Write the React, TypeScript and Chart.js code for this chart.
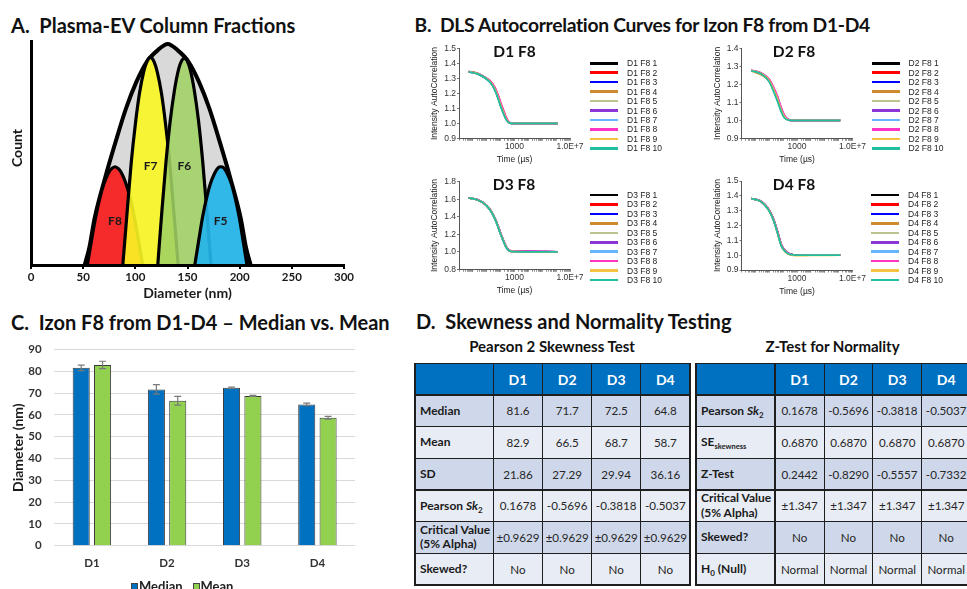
import React, { useEffect, useRef } from "react";
import { Chart, registerables } from "chart.js";

Chart.register(...registerables);

const CAL = "Lato, 'Open Sans', sans-serif";
const ARIAL = "'Liberation Sans', Arial, sans-serif";

// ---------------- Panel A data ----------------
const A_X_TICKS = [0, 50, 100, 150, 200, 250, 300];
const ALL_X = [51.5, 56, 61, 71, 81, 91, 101, 111, 121, 131, 141, 151, 161, 171, 181, 191, 201, 206, 210.5];
const ALL_Y = [0, 8, 21, 39, 55, 70, 82, 91, 96, 99, 96, 91, 82, 70, 55, 39, 21, 8, 0];
const F8_X = [54, 58, 62, 66, 70, 74, 77, 80.5, 84, 87, 91, 95, 99, 103, 107];
const F8_Y = [0, 11, 21.5, 30, 36.5, 41, 43, 44, 43, 41, 36.5, 30, 21.5, 11, 0];
const F7_X = [88, 92, 96, 100, 104, 108, 111, 114.5, 118, 121, 125, 129, 133, 137, 141];
const F7_Y = [0, 23, 45.5, 63, 77, 86.5, 91, 93, 91, 86.5, 77, 63, 45.5, 23, 0];
const F6_X = [121.5, 125.5, 129.5, 133.5, 137.5, 141.5, 144.5, 147, 149.5, 152.5, 156.5, 160.5, 164.5, 168.5, 172.5];
const F6_Y = [0, 24.5, 46.7, 64.8, 78.3, 87.7, 91.6, 92.5, 91.6, 87.7, 78.3, 64.8, 46.7, 24.5, 0];
const F5_X = [157, 161, 164.5, 168.5, 172, 176, 179.5, 182, 184.5, 188, 192, 195.5, 199.5, 203, 207];
const F5_Y = [0, 11.7, 21.6, 30.4, 36.5, 41.1, 43.6, 44, 43.6, 41.1, 36.5, 30.4, 21.6, 11.7, 0];
const FRACTION_NAMES = ["F8", "F7", "F6", "F5"];
const FRACTION_LABEL_X = [80.5, 114.7, 146.9, 181.8];
const FRACTION_LABEL_Y = [19.5, 44.5, 44.5, 19.5];

// ---------------- Panel B data ----------------
const TIME_US = [0.5, 2, 5, 10, 20, 40, 70, 100, 150, 250, 400, 700, 10000, 1300000];
const TIME_LABEL_VALUES = [1000, 10000000];
const TIME_LABEL_TEXT = ["1000", "1.0E+7"];
const RUN_COLORS = ["#000000", "#ff0000", "#0000ff", "#d08a2e", "#b9c48e", "#8b35d6", "#66b5ff", "#ff33c4", "#f5c242", "#1fbf9f"];

const D1_RUNS = [
  [1.347, 1.335, 1.316, 1.298, 1.272, 1.225, 1.165, 1.122, 1.080, 1.030, 1.006, 1.000, 1.000, 1.000],
  [1.347, 1.336, 1.318, 1.301, 1.278, 1.236, 1.180, 1.137, 1.093, 1.038, 1.009, 1.001, 1.000, 1.000],
  [1.346, 1.334, 1.315, 1.297, 1.271, 1.224, 1.164, 1.121, 1.079, 1.029, 1.006, 1.000, 1.000, 1.000],
  [1.347, 1.335, 1.317, 1.299, 1.274, 1.228, 1.168, 1.125, 1.082, 1.031, 1.007, 1.000, 1.000, 1.000],
  [1.346, 1.334, 1.316, 1.297, 1.271, 1.223, 1.163, 1.120, 1.078, 1.029, 1.005, 1.000, 1.000, 1.000],
  [1.347, 1.336, 1.317, 1.299, 1.273, 1.227, 1.167, 1.124, 1.081, 1.031, 1.006, 1.000, 1.000, 1.000],
  [1.346, 1.334, 1.315, 1.296, 1.270, 1.222, 1.162, 1.119, 1.077, 1.028, 1.005, 1.000, 1.000, 1.000],
  [1.347, 1.337, 1.319, 1.302, 1.279, 1.238, 1.183, 1.140, 1.096, 1.040, 1.010, 1.001, 1.000, 1.000],
  [1.346, 1.335, 1.316, 1.298, 1.272, 1.226, 1.166, 1.123, 1.080, 1.030, 1.006, 1.000, 1.000, 1.000],
  [1.346, 1.334, 1.315, 1.296, 1.269, 1.220, 1.158, 1.114, 1.072, 1.025, 1.004, 1.000, 1.000, 1.000],
];
const D2_RUNS = [
  [1.277, 1.265, 1.245, 1.220, 1.172, 1.115, 1.060, 1.032, 1.012, 1.002, 1.000, 1.000, 1.000, 1.000],
  [1.277, 1.266, 1.247, 1.223, 1.176, 1.120, 1.064, 1.035, 1.014, 1.003, 1.000, 1.000, 1.000, 1.000],
  [1.277, 1.265, 1.246, 1.221, 1.174, 1.117, 1.061, 1.033, 1.013, 1.002, 1.000, 1.000, 1.000, 1.000],
  [1.276, 1.258, 1.240, 1.217, 1.169, 1.112, 1.058, 1.031, 1.011, 1.002, 1.001, 1.002, 1.000, 1.000],
  [1.277, 1.264, 1.244, 1.219, 1.171, 1.114, 1.059, 1.031, 1.012, 1.002, 1.000, 1.000, 1.000, 1.000],
  [1.278, 1.267, 1.249, 1.227, 1.183, 1.129, 1.073, 1.042, 1.018, 1.004, 1.000, 1.000, 1.000, 1.000],
  [1.277, 1.265, 1.245, 1.220, 1.173, 1.116, 1.061, 1.032, 1.012, 1.002, 1.000, 1.000, 1.000, 1.000],
  [1.278, 1.267, 1.250, 1.228, 1.185, 1.131, 1.075, 1.043, 1.019, 1.004, 1.000, 1.000, 1.000, 1.000],
  [1.277, 1.265, 1.246, 1.221, 1.174, 1.117, 1.062, 1.033, 1.013, 1.002, 1.000, 1.000, 1.000, 1.000],
  [1.276, 1.263, 1.242, 1.214, 1.163, 1.104, 1.051, 1.025, 1.008, 1.001, 1.000, 1.000, 1.000, 1.000],
];
const D3_RUNS = [
  [1.615, 1.595, 1.565, 1.525, 1.465, 1.375, 1.275, 1.205, 1.135, 1.055, 1.015, 1.003, 1.000, 1.000],
  [1.615, 1.595, 1.566, 1.527, 1.468, 1.379, 1.280, 1.210, 1.139, 1.058, 1.017, 1.004, 1.001, 1.000],
  [1.614, 1.594, 1.564, 1.524, 1.464, 1.374, 1.274, 1.204, 1.134, 1.055, 1.015, 1.003, 1.000, 1.000],
  [1.615, 1.595, 1.565, 1.526, 1.466, 1.376, 1.276, 1.206, 1.136, 1.056, 1.016, 1.003, 1.000, 1.000],
  [1.614, 1.594, 1.564, 1.524, 1.463, 1.373, 1.273, 1.203, 1.133, 1.054, 1.014, 1.003, 1.000, 1.000],
  [1.615, 1.596, 1.566, 1.527, 1.467, 1.378, 1.279, 1.209, 1.139, 1.060, 1.020, 1.010, 1.008, 1.000],
  [1.615, 1.595, 1.565, 1.525, 1.465, 1.375, 1.275, 1.205, 1.135, 1.055, 1.015, 1.003, 1.000, 1.000],
  [1.615, 1.595, 1.566, 1.526, 1.467, 1.377, 1.278, 1.208, 1.138, 1.058, 1.018, 1.006, 1.004, 1.000],
  [1.614, 1.594, 1.565, 1.525, 1.465, 1.374, 1.274, 1.204, 1.134, 1.055, 1.015, 1.003, 1.000, 1.000],
  [1.614, 1.594, 1.564, 1.523, 1.462, 1.371, 1.270, 1.200, 1.130, 1.051, 1.013, 1.002, 1.000, 1.000],
];
const D4_RUNS = [
  [1.382, 1.368, 1.338, 1.300, 1.240, 1.152, 1.073, 1.045, 1.025, 1.010, 1.004, 1.001, 1.000, 1.000],
  [1.382, 1.368, 1.339, 1.302, 1.243, 1.156, 1.077, 1.048, 1.027, 1.011, 1.004, 1.001, 1.000, 1.000],
  [1.381, 1.367, 1.338, 1.299, 1.239, 1.151, 1.072, 1.044, 1.024, 1.010, 1.004, 1.001, 1.000, 1.000],
  [1.382, 1.368, 1.339, 1.301, 1.241, 1.153, 1.074, 1.046, 1.025, 1.010, 1.004, 1.001, 1.000, 1.000],
  [1.381, 1.367, 1.337, 1.299, 1.238, 1.150, 1.071, 1.043, 1.023, 1.009, 1.003, 1.000, 1.000, 1.000],
  [1.382, 1.369, 1.340, 1.303, 1.245, 1.158, 1.079, 1.049, 1.028, 1.012, 1.005, 1.001, 1.000, 1.000],
  [1.382, 1.368, 1.338, 1.300, 1.240, 1.152, 1.073, 1.045, 1.025, 1.010, 1.004, 1.001, 1.000, 1.000],
  [1.382, 1.368, 1.339, 1.302, 1.243, 1.155, 1.076, 1.047, 1.026, 1.011, 1.004, 1.001, 1.000, 1.000],
  [1.381, 1.367, 1.337, 1.298, 1.237, 1.148, 1.069, 1.040, 1.019, 1.006, 1.000, 0.997, 0.998, 1.000],
  [1.381, 1.367, 1.336, 1.297, 1.236, 1.147, 1.068, 1.041, 1.022, 1.008, 1.003, 1.000, 1.000, 1.000],
];

// ---------------- Panel C data ----------------
const DONORS = ["D1", "D2", "D3", "D4"];
const MEDIAN = [81.6, 71.7, 72.5, 64.8];
const MEAN = [82.9, 66.5, 68.7, 58.7];
const MEDIAN_ERR = [1.25, 2.2, 0.3, 0.6];
const MEAN_ERR = [1.7, 2.0, 0.25, 0.6];

// ---------------- Panel D data ----------------
const SD = ["21.86", "27.29", "29.94", "36.16"];
const SK2 = ["0.1678", "-0.5696", "-0.3818", "-0.5037"];
const CRIT_PEARSON = ["±0.9629", "±0.9629", "±0.9629", "±0.9629"];
const SKEWED = ["No", "No", "No", "No"];
const SE_SKEW = ["0.6870", "0.6870", "0.6870", "0.6870"];
const Z_TEST = ["0.2442", "-0.8290", "-0.5557", "-0.7332"];
const CRIT_Z = ["±1.347", "±1.347", "±1.347", "±1.347"];
const H0 = ["Normal", "Normal", "Normal", "Normal"];

// ---------------- helpers ----------------
type Area = { l: number; t: number; r: number; b: number };
function frame(a: Area, lp: number, tp: number, rp: number, bp: number) {
  const cl = Math.floor(a.l - lp);
  const ct = Math.floor(a.t - tp);
  const cw = Math.ceil(a.r + rp) - cl;
  const ch = Math.ceil(a.b + bp) - ct;
  return { cl, ct, cw, ch, yWidth: a.l - cl, padTop: a.t - ct, padRight: cl + cw - a.r, xHeight: ct + ch - a.b };
}

function ChartBox({ f, build }: { f: any; build: () => any }) {
  const ref = useRef<HTMLCanvasElement>(null);
  useEffect(() => {
    const chart = new Chart(ref.current as HTMLCanvasElement, build());
    return () => chart.destroy();
  }, []);
  return (
    <canvas
      ref={ref}
      width={f.cw}
      height={f.ch}
      style={{ position: "absolute", left: f.cl, top: f.ct, width: f.cw, height: f.ch }}
    />
  );
}

function Txt({ x, y, size, bold = false, align = "left", color = "#111", family = CAL, spacing = 0, children }: any) {
  const asc = family === ARIAL ? 0.8465 : 0.887;
  return (
    <div
      style={{
        position: "absolute",
        left: x,
        top: y - asc * size,
        fontSize: size,
        lineHeight: `${size}px`,
        fontWeight: bold ? 700 : 400,
        fontFamily: family,
        color,
        letterSpacing: spacing,
        whiteSpace: "pre",
        transform: align === "center" ? "translateX(-50%)" : undefined,
      }}
    >
      {children}
    </div>
  );
}

// ---------------- Panel A ----------------
const fractionLabelPlugin = {
  id: "fractionLabels",
  afterDatasetsDraw(chart: any) {
    const { ctx } = chart;
    const xs = chart.scales.x;
    const ys = chart.scales.y;
    ctx.save();
    ctx.font = `bold 12px ${CAL}`;
    ctx.fillStyle = "#1a1a1a";
    ctx.textAlign = "center";
    ctx.textBaseline = "middle";
    FRACTION_NAMES.forEach((t, i) => {
      ctx.fillText(t, xs.getPixelForValue(FRACTION_LABEL_X[i]), ys.getPixelForValue(FRACTION_LABEL_Y[i]));
    });
    ctx.restore();
  },
};

const A_AREA: Area = { l: 31, t: 41.7, r: 344, b: 265 };
function PanelA() {
  const f = frame(A_AREA, 31, 12, 16, 45);
  const pts = (xs: number[], ys: number[]) => xs.map((x, i) => ({ x, y: ys[i] }));
  const common = {
    fill: "origin",
    borderColor: "#000",
    pointRadius: 0,
    cubicInterpolationMode: "monotone",
    borderJoinStyle: "round",
    borderCapStyle: "round",
  };
  const build = () => ({
    type: "line",
    data: {
      datasets: [
        { ...common, label: "All", data: pts(ALL_X, ALL_Y), backgroundColor: "#d9d9d9", borderWidth: 4, order: 4 },
        { ...common, label: "F8", data: pts(F8_X, F8_Y), backgroundColor: "#f52b2b", borderWidth: 3.2, order: 3 },
        { ...common, label: "F7", data: pts(F7_X, F7_Y), backgroundColor: "rgba(248,246,34,0.9)", borderWidth: 3.2, order: 2 },
        { ...common, label: "F6", data: pts(F6_X, F6_Y), backgroundColor: "rgba(160,210,100,0.88)", borderWidth: 3.2, order: 1 },
        { ...common, label: "F5", data: pts(F5_X, F5_Y), backgroundColor: "rgba(36,180,234,0.92)", borderWidth: 3.2, order: 0 },
      ],
    },
    options: {
      responsive: false,
      animation: false,
      layout: { padding: { left: 0, right: f.padRight, top: f.padTop, bottom: 0 } },
      plugins: { legend: { display: false }, tooltip: { enabled: false } },
      scales: {
        x: {
          type: "linear",
          min: 0,
          max: 300,
          afterBuildTicks: (s: any) => {
            s.ticks = A_X_TICKS.map((v) => ({ value: v }));
          },
          ticks: { font: { family: CAL, size: 11.5, weight: "bold" }, color: "#1a1a1a", padding: 1.1, maxRotation: 0, autoSkip: false },
          grid: { display: true, drawOnChartArea: false, drawTicks: true, tickLength: 4, color: "#000", lineWidth: 2 },
          border: { display: true, color: "#000", width: 3, z: 1 },
          title: {
            display: true,
            text: "Diameter (nm)",
            font: { family: CAL, size: 14, weight: "bold" },
            color: "#1a1a1a",
            padding: { top: 0, bottom: f.ct + f.ch - 8.4 - 293 },
          },
          afterFit: (s: any) => {
            s.height = f.xHeight;
          },
        },
        y: {
          min: 0,
          max: 100,
          ticks: { display: false },
          grid: { display: false, drawTicks: false },
          border: { display: true, color: "#000", width: 3, z: 1 },
          afterFit: (s: any) => {
            s.width = f.yWidth;
          },
        },
      },
    },
    plugins: [fractionLabelPlugin],
  });
  return (
    <>
      <ChartBox f={f} build={build} />
      <div
        style={{
          position: "absolute",
          left: 17,
          top: 147.5,
          transform: "translate(-50%,-50%) rotate(-90deg)",
          fontFamily: CAL,
          fontWeight: 700,
          fontSize: 14,
          lineHeight: "14px",
          color: "#111",
          whiteSpace: "nowrap",
        }}
      >
        Count
      </div>
    </>
  );
}

// ---------------- Panel B ----------------
const DLS_TICKS: number[] = (() => {
  const out: number[] = [];
  for (let e = -1; e < 7; e++) for (let m = 1; m < 10; m++) out.push(m * Math.pow(10, e));
  out.push(Math.pow(10, 7));
  return out;
})();

const DLS_PANELS = [
  { name: "D1 F8", runs: D1_RUNS, yMin: 0.9, yMax: 1.5, yStep: 0.1, area: { l: 459, t: 48.8, r: 570, b: 138.3 }, legend: [590, 63.3], title: [514.5, 57.3] },
  { name: "D2 F8", runs: D2_RUNS, yMin: 0.9, yMax: 1.4, yStep: 0.1, area: { l: 741.5, t: 48.5, r: 852.5, b: 138.3 }, legend: [871.5, 63.3], title: [794, 57.3] },
  { name: "D3 F8", runs: D3_RUNS, yMin: 0.8, yMax: 1.8, yStep: 0.2, area: { l: 459, t: 181.7, r: 570, b: 269.3 }, legend: [590, 195], title: [514, 190.7] },
  { name: "D4 F8", runs: D4_RUNS, yMin: 0.9, yMax: 1.5, yStep: 0.1, area: { l: 741.5, t: 181, r: 852.5, b: 270 }, legend: [871, 195], title: [794, 190.7] },
];

function DlsChart({ p }: { p: any }) {
  const f = frame(p.area, 36, 10, 22, 32);
  const fs = 8.5;
  const lh = fs * 1.2;
  const build = () => ({
    type: "line",
    data: {
      datasets: p.runs.map((vals: number[], i: number) => ({
        label: `${p.name} ${i + 1}`,
        data: TIME_US.map((t, j) => ({ x: t, y: vals[j] })),
        borderColor: RUN_COLORS[i],
        borderWidth: 1.8,
        pointRadius: 0,
        fill: false,
        cubicInterpolationMode: "monotone",
        order: p.runs.length - i,
      })),
    },
    options: {
      responsive: false,
      animation: false,
      layout: { padding: { left: 0, right: f.padRight, top: f.padTop, bottom: 0 } },
      plugins: { legend: { display: false }, tooltip: { enabled: false } },
      scales: {
        x: {
          type: "logarithmic",
          min: 0.1,
          max: 10000000,
          afterBuildTicks: (s: any) => {
            s.ticks = DLS_TICKS.map((v) => ({ value: v }));
          },
          ticks: {
            autoSkip: false,
            maxRotation: 0,
            padding: 0.6,
            font: { family: ARIAL, size: fs },
            color: "#333",
            callback: (v: any) => {
              const k = TIME_LABEL_VALUES.indexOf(Number(v));
              return k >= 0 ? TIME_LABEL_TEXT[k] : "";
            },
          },
          grid: { drawOnChartArea: false, drawTicks: true, tickLength: 2.5, color: "#777", lineWidth: 0.8 },
          border: { color: "#555", width: 1 },
          title: {
            display: true,
            text: "Time (µs)",
            font: { family: ARIAL, size: fs },
            color: "#222",
            padding: { top: 0, bottom: f.ct + f.ch - lh / 2 - (p.area.b + 21.8) },
          },
          afterFit: (s: any) => {
            s.height = f.xHeight;
          },
        },
        y: {
          min: p.yMin,
          max: p.yMax,
          ticks: {
            stepSize: p.yStep,
            padding: 1,
            font: { family: ARIAL, size: fs },
            color: "#333",
            callback: (v: any) => Number(v).toFixed(1),
          },
          grid: { drawOnChartArea: false, drawTicks: true, tickLength: 2, color: "#777" },
          border: { color: "#555", width: 1 },
          title: {
            display: true,
            text: "Intensity AutoCorrelation",
            font: { family: ARIAL, size: fs },
            color: "#222",
            padding: { top: p.area.l - 24.3 - f.cl - lh / 2, bottom: 0 },
          },
          afterFit: (s: any) => {
            s.width = f.yWidth;
          },
        },
      },
    },
  });
  const [lx, ly] = p.legend;
  return (
    <>
      <ChartBox f={f} build={build} />
      <Txt x={p.title[0]} y={p.title[1]} size={15.5} bold align="center">
        {p.name}
      </Txt>
      {p.runs.map((_: any, i: number) => {
        const cy = ly + i * 9.45;
        return (
          <React.Fragment key={i}>
            <div style={{ position: "absolute", left: lx, top: cy - 1.3, width: 28, height: 2.6, background: RUN_COLORS[i] }} />
            <div
              style={{
                position: "absolute",
                left: lx + 37,
                top: cy - 5,
                fontFamily: ARIAL,
                fontSize: 8.5,
                lineHeight: "10px",
                color: "#222",
                whiteSpace: "nowrap",
              }}
            >
              {`${p.name} ${i + 1}`}
            </div>
          </React.Fragment>
        );
      })}
    </>
  );
}

// ---------------- Panel C ----------------
const errorBarPlugin = {
  id: "errorBars",
  afterDatasetsDraw(chart: any) {
    const { ctx } = chart;
    const ys = chart.scales.y;
    const errs = [MEDIAN_ERR, MEAN_ERR];
    chart.data.datasets.forEach((ds: any, di: number) => {
      const meta = chart.getDatasetMeta(di);
      meta.data.forEach((el: any, i: number) => {
        const v = ds.data[i];
        const e = errs[di][i];
        const x = el.x;
        const y1 = ys.getPixelForValue(v + e);
        const y2 = ys.getPixelForValue(v - e);
        ctx.save();
        ctx.strokeStyle = "#7a7a7a";
        ctx.lineWidth = 1.2;
        ctx.beginPath();
        ctx.moveTo(x, y1);
        ctx.lineTo(x, y2);
        ctx.moveTo(x - 3.5, y1);
        ctx.lineTo(x + 3.5, y1);
        ctx.moveTo(x - 3.5, y2);
        ctx.lineTo(x + 3.5, y2);
        ctx.stroke();
        ctx.restore();
      });
    });
  },
};

const C_AREA: Area = { l: 54.3, t: 343.3, r: 355, b: 545.7 };
function PanelC() {
  const f = frame(C_AREA, 54.3, 13, 15, 34);
  const build = () => ({
    type: "bar",
    data: {
      labels: DONORS,
      datasets: [
        { label: "Median", data: MEDIAN, backgroundColor: "#0070c0", borderColor: "#3a3a3a", borderWidth: 1, categoryPercentage: 0.568, barPercentage: 0.8 },
        { label: "Mean", data: MEAN, backgroundColor: "#92d050", borderColor: "#3a3a3a", borderWidth: 1, categoryPercentage: 0.568, barPercentage: 0.8 },
      ],
    },
    options: {
      responsive: false,
      animation: false,
      layout: { padding: { left: 0, right: f.padRight, top: f.padTop, bottom: 0 } },
      plugins: { legend: { display: false }, tooltip: { enabled: false } },
      scales: {
        x: {
          grid: { display: false, drawTicks: false },
          border: { display: false },
          ticks: { font: { family: CAL, size: 11.5, weight: "bold" }, color: "#333", padding: 10.7 },
          afterFit: (s: any) => {
            s.height = f.xHeight;
          },
        },
        y: {
          min: 0,
          max: 90,
          ticks: { stepSize: 10, font: { family: CAL, size: 11.5, weight: "bold" }, color: "#333", padding: 12.6 },
          grid: { color: "#d9d9d9", drawTicks: false, lineWidth: 1 },
          border: { display: false },
          title: {
            display: true,
            text: "Diameter (nm)",
            font: { family: CAL, size: 14, weight: "bold" },
            color: "#1a1a1a",
            padding: { top: 9.9, bottom: 0 },
          },
          afterFit: (s: any) => {
            s.width = f.yWidth;
          },
        },
      },
    },
    plugins: [errorBarPlugin],
  });
  return (
    <>
      <ChartBox f={f} build={build} />
      <div style={{ position: "absolute", left: 131, top: 582.5, width: 7, height: 7, background: "#0070c0", boxSizing: "border-box", border: "1px solid #444" }} />
      <Txt x={139} y={591.6} size={13} bold color="#222">Median</Txt>
      <div style={{ position: "absolute", left: 192.5, top: 582.5, width: 7, height: 7, background: "#92d050", boxSizing: "border-box", border: "1px solid #444" }} />
      <Txt x={200.5} y={591.6} size={13} bold color="#222">Mean</Txt>
    </>
  );
}

// ---------------- Panel D ----------------
const T1_COLS = [415, 493.3, 542.7, 591.7, 640.7, 690];
const T2_COLS = [696, 775, 824.3, 872.7, 921.7, 970.7];
const T_ROWS = [363.3, 395, 426.7, 458.3, 490, 521.7, 553.3, 585];
const ROW_BG = ["#cfd8ea", "#e8ecf4"];

function DataTable({ cols, rows }: { cols: number[]; rows: { label: any; values: string[] }[] }) {
  const els: any[] = [];
  const W = cols[cols.length - 1] - cols[0];
  els.push(
    <div key="hbg" style={{ position: "absolute", left: cols[0], top: T_ROWS[0], width: W, height: T_ROWS[1] - T_ROWS[0], background: "#0070c0" }} />
  );
  DONORS.forEach((d, i) => {
    els.push(
      <div
        key={"h" + i}
        style={{
          position: "absolute",
          left: cols[i + 1],
          top: T_ROWS[0],
          width: cols[i + 2] - cols[i + 1],
          height: T_ROWS[1] - T_ROWS[0],
          display: "flex",
          alignItems: "center",
          justifyContent: "center",
          color: "#fff",
          fontFamily: CAL,
          fontWeight: 700,
          fontSize: 14,
        }}
      >
        {d}
      </div>
    );
  });
  rows.forEach((row, r) => {
    const top = T_ROWS[r + 1];
    const h = T_ROWS[r + 2] - top;
    els.push(<div key={"bg" + r} style={{ position: "absolute", left: cols[0], top, width: W, height: h, background: ROW_BG[r % 2] }} />);
    els.push(
      <div
        key={"l" + r}
        style={{
          position: "absolute",
          left: cols[0] + 5,
          top,
          width: cols[1] - cols[0] - 5,
          height: h,
          display: "flex",
          alignItems: "center",
          fontFamily: CAL,
          fontWeight: 700,
          fontSize: 12,
          lineHeight: "14.5px",
          color: "#1a1a1a",
          whiteSpace: "nowrap",
        }}
      >
        <div>{row.label}</div>
      </div>
    );
    row.values.forEach((v, c) => {
      els.push(
        <div
          key={"v" + r + "_" + c}
          style={{
            position: "absolute",
            left: cols[c + 1],
            top,
            width: cols[c + 2] - cols[c + 1],
            height: h,
            display: "flex",
            alignItems: "center",
            justifyContent: "center",
            fontFamily: CAL,
            fontSize: 11.6,
            color: "#262626",
            whiteSpace: "nowrap",
          }}
        >
          {v}
        </div>
      );
    });
  });
  const lw = 1.5;
  cols.forEach((x, i) => {
    els.push(
      <div key={"vl" + i} style={{ position: "absolute", left: x - lw / 2, top: T_ROWS[0] - lw / 2, width: lw, height: T_ROWS[T_ROWS.length - 1] - T_ROWS[0] + lw, background: "#1e1e1e" }} />
    );
  });
  T_ROWS.forEach((y, i) => {
    els.push(<div key={"hl" + i} style={{ position: "absolute", left: cols[0] - lw / 2, top: y - lw / 2, width: W + lw, height: lw, background: "#1e1e1e" }} />);
  });
  return <>{els}</>;
}

const subStyle = { fontSize: 8, verticalAlign: "-3px", lineHeight: 0 } as any;
const PearsonLabel = (
  <span>
    Pearson <i>Sk</i>
    <span style={subStyle}>2</span>
  </span>
);
const CritLabel = (
  <span>
    Critical Value
    <br />
    (5% Alpha)
  </span>
);

function PanelD() {
  const t1 = [
    { label: "Median", values: MEDIAN.map((v) => v.toFixed(1)) },
    { label: "Mean", values: MEAN.map((v) => v.toFixed(1)) },
    { label: "SD", values: SD },
    { label: PearsonLabel, values: SK2 },
    { label: CritLabel, values: CRIT_PEARSON },
    { label: "Skewed?", values: SKEWED },
  ];
  const t2 = [
    { label: PearsonLabel, values: SK2 },
    {
      label: (
        <span>
          SE<span style={{ fontSize: 7.5, verticalAlign: "-3px", lineHeight: 0 }}>skewness</span>
        </span>
      ),
      values: SE_SKEW,
    },
    { label: "Z-Test", values: Z_TEST },
    { label: CritLabel, values: CRIT_Z },
    { label: "Skewed?", values: SKEWED },
    {
      label: (
        <span>
          H<span style={subStyle}>0</span> (Null)
        </span>
      ),
      values: H0,
    },
  ];
  return (
    <>
      <Txt x={552} y={352.7} size={15} bold align="center">Pearson 2 Skewness Test</Txt>
      <Txt x={832.5} y={352.7} size={15} bold align="center">Z-Test for Normality</Txt>
      <DataTable cols={T1_COLS} rows={t1} />
      <DataTable cols={T2_COLS} rows={t2} />
    </>
  );
}

export default function App() {
  return (
    <div
      style={{
        position: "fixed",
        left: 0,
        top: 0,
        width: 967,
        height: 589,
        overflow: "hidden",
        background: "#fff",
        fontFamily: CAL,
      }}
    >
      <Txt x={11} y={32.3} size={20} bold>{"A.  Plasma-EV Column Fractions"}</Txt>
      <Txt x={414.5} y={31.7} size={19.3} bold spacing={-0.3}>{"B.  DLS Autocorrelation Curves for Izon F8 from D1-D4"}</Txt>
      <Txt x={11} y={329.3} size={20} bold>{"C.  Izon F8 from D1-D4 – Median vs. Mean"}</Txt>
      <Txt x={416} y={328.3} size={20} bold>{"D.  Skewness and Normality Testing"}</Txt>
      <PanelA />
      {DLS_PANELS.map((p) => (
        <DlsChart key={p.name} p={p} />
      ))}
      <PanelC />
      <PanelD />
    </div>
  );
}
